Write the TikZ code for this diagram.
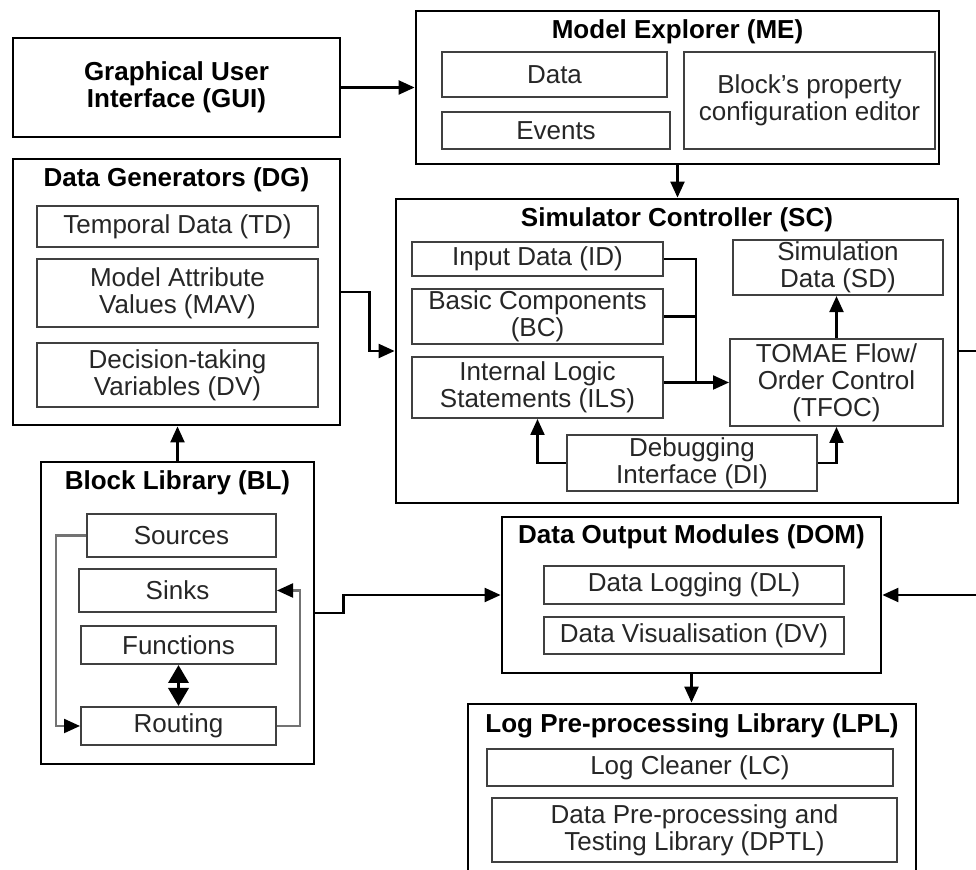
\documentclass[tikz,border=0pt]{standalone}
\usepackage{fontspec}
\setmainfont{Liberation Sans}
\usetikzlibrary{arrows.meta,positioning}

\begin{document}
\begin{tikzpicture}[x=0.5pt, y=-0.5pt,
		font=\fontsize{13}{13.5}\selectfont,
		outer/.style   = {draw, line width=1.4pt, rectangle, inner sep=1pt},
		inner/.style   = {draw=black!75, line width=1pt, rectangle, align=center, text=black!85, inner sep=1pt},
		title/.style   = {font=\fontsize{13}{13.5}\selectfont\bfseries, align=center},
		link/.style    = {->, line width=1.1pt},
		sublink/.style = {-{Triangle[length=8pt,width=7pt,black]}, draw=black!55, line width=1.1pt},
		>={Triangle[length=8pt,width=7pt]}]
		
		\useasboundingbox (0,0) rectangle (976,870);
		\clip (0,0) rectangle (976,870);
		
		% the outer modules
		\node[outer, title, minimum width=163.5pt, minimum height=49.5pt] (gui) at (176.5,87.5) {Graphical User\\Interface (GUI)};
		\node[outer, minimum width=261.5pt, minimum height=76.5pt] (me) at (677.5,87.5) {};
		\node[outer, minimum width=163.5pt, minimum height=133pt] (dg) at (176.5,292) {};
		\node[outer, minimum width=281pt, minimum height=152pt] (sc) at (677,351) {};
		\node[outer, minimum width=136.5pt, minimum height=151pt] (bl) at (177.5,613) {};
		\node[outer, minimum width=189.5pt, minimum height=78pt] (dom) at (691.5,595) {};
		\node[outer, minimum width=224pt, minimum height=100pt] (lpl) at (692,804) {};
		
		% titles of the modules
		\node[title] (met) at (677.5,32) {Model Explorer (ME)};
		\node[title] (dgt) at (176.5,180) {Data Generators (DG)};
		\node[title] (sct) at (677,220) {Simulator Controller (SC)};
		\node[title] (blt) at (177.5,483) {Block Library (BL)};
		\node[title] (domt) at (691.5,537) {Data Output Modules (DOM)};
		\node[title] (lplt) at (692,726) {Log Pre-processing Library (LPL)};
		
		% the parts inside each module
		\begin{scope}[every node/.style={inner}]
			\node[minimum width=112.5pt, minimum height=22.5pt] (data) at (554.5,74.5) {Data};
			\node[minimum width=114pt, minimum height=18.5pt] (events) at (556,130.5) {Events};
			\node[minimum width=125.5pt, minimum height=48.5pt] (prop) at (809.5,100.5) {Block's property\\configuration editor};
			
			\node[minimum width=140.5pt, minimum height=20.5pt] (td) at (177.5,226.5) {Temporal Data (TD)};
			\node[minimum width=140.5pt, minimum height=34pt] (mav) at (177.5,293) {Model Attribute\\Values (MAV)};
			\node[minimum width=140.5pt, minimum height=32pt] (dtv) at (177.5,375) {Decision-taking\\Variables (DV)};
			
			\node[minimum width=125.5pt, minimum height=17pt] (id) at (537.5,259) {Input Data (ID)};
			\node[minimum width=125.5pt, minimum height=27.5pt] (bc) at (537.5,316.5) {Basic Components\\(BC)};
			\node[minimum width=125.5pt, minimum height=30.5pt] (ils) at (537.5,387.5) {Internal Logic\\Statements (ILS)};
			\node[minimum width=105pt, minimum height=26.5pt] (sd) at (838,267.5) {Simulation\\Data (SD)};
			\node[minimum width=106.5pt, minimum height=43.5pt] (tfoc) at (836.5,382.5) {TOMAE Flow/\\Order Control\\(TFOC)};
			\node[minimum width=125pt, minimum height=28pt] (di) at (692,463) {Debugging\\Interface (DI)};
			
			\node[minimum width=94.5pt, minimum height=21.5pt] (src) at (181.5,535.5) {Sources};
			\node[minimum width=98.5pt, minimum height=21.5pt] (sinks) at (177.5,590.5) {Sinks};
			\node[minimum width=97.5pt, minimum height=19pt] (fun) at (178.5,645) {Functions};
			\node[minimum width=97.5pt, minimum height=19pt] (rout) at (178.5,726) {Routing};
			
			\node[minimum width=150pt, minimum height=19pt] (dl) at (694,585) {Data Logging (DL)};
			\node[minimum width=150pt, minimum height=18.5pt] (dvis) at (694,635.5) {Data Visualisation (DV)};
			
			\node[minimum width=203pt, minimum height=18.5pt] (lc) at (690,767.5) {Log Cleaner (LC)};
			\node[minimum width=202.5pt, minimum height=32pt] (dptl) at (694.5,830) {Data Pre-processing and\\Testing Library (DPTL)};
		\end{scope}
		
		% lines between the modules
		\draw[link] (gui) -- (me);
		\draw[link] (me.south) -- (me.south |- sc.north);
		\draw[link] (dg.east) -- ++(28,0) |- (sc.west);
		\draw[link] (bl.north) -- (bl.north |- dg.south);
		\draw[link] (bl.east) -- ++(28,0) |- (dom.west);
		\draw[link] (sc.east) -- ++(45,0) |- (dom.east);
		\draw[link] (dom.south) -- (dom.south |- lpl.north);
		
		% lines inside the simulator controller
		\coordinate (jn) at (696,382.5);
		\foreach \n in {id,bc}
		\draw[line width=1.1pt] (\n.east) -| (jn);
		\draw[link] (ils.east |- jn) -- (tfoc.west);
		\draw[link] (tfoc.north) -- (tfoc.north |- sd.south);
		\draw[link] (di.west) -| (ils.south);
		\draw[link] (di.east) -| (tfoc.south);
		
		% lines inside the block library
		\draw[sublink] (src.west) -- ++(-30,0) |- (rout.west);
		\draw[sublink] (rout.east) -- ++(23,0) |- (sinks.east);
		\draw[{Triangle[length=9pt,width=10pt]}-{Triangle[length=9pt,width=10pt]}, line width=1.8pt] (fun.south) -- (rout.north);
		
	\end{tikzpicture}
\end{document}
